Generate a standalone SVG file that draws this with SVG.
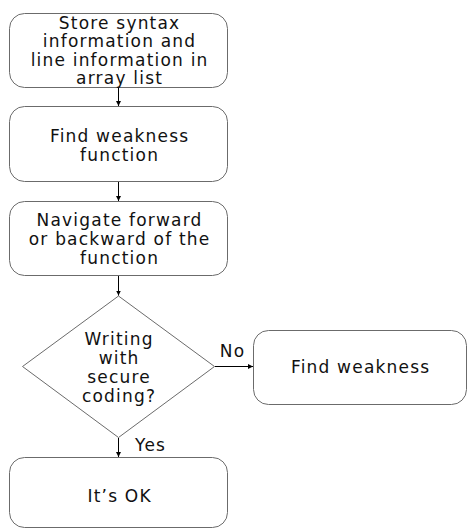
<svg xmlns="http://www.w3.org/2000/svg" width="468" height="529" viewBox="0 0 468 529">
<defs>
<marker id="ah" markerWidth="6" markerHeight="6" refX="5" refY="3" orient="auto" markerUnits="userSpaceOnUse">
<path d="M0,0.5 L5,3 L0,5.5 Z" fill="#000"/>
</marker>
<style>
.box{fill:#fff;stroke:#6b6b6b;stroke-width:1}
.t{font-family:"DejaVu Sans","Noto Sans",sans-serif;font-size:17px;letter-spacing:1.2px;fill:#111;text-anchor:middle}
.c{stroke:#000;stroke-width:1;fill:none;marker-end:url(#ah)}
</style>
</defs>
<rect width="468" height="529" fill="#fff"/>
<g id="n1">
<rect class="box" x="9.5" y="13.5" width="218" height="74" rx="15"/>
<text class="t"><tspan x="119.6" y="28.5">Store syntax</tspan><tspan x="119.6" y="47">information and</tspan><tspan x="119.6" y="65.5">line information in</tspan><tspan x="119.6" y="84">array list</tspan></text>
</g>
<g id="n2">
<rect class="box" x="9.5" y="106.5" width="218" height="75" rx="15"/>
<text class="t"><tspan x="119.6" y="141.5">Find weakness</tspan><tspan x="119.6" y="160.5">function</tspan></text>
</g>
<g id="n3">
<rect class="box" x="9.5" y="201.5" width="218" height="74" rx="15"/>
<text class="t"><tspan x="119.6" y="225.5">Navigate forward</tspan><tspan x="119.6" y="244.5">or backward of the</tspan><tspan x="119.6" y="263.5">function</tspan></text>
</g>
<g id="n4">
<polygon class="box" points="118.5,296 214.5,366.5 118.5,437.5 22.5,366.5"/>
<text class="t"><tspan x="119.1" y="345">Writing</tspan><tspan x="119.1" y="363.5">with</tspan><tspan x="119.1" y="382.5">secure</tspan><tspan x="119.1" y="401.5">coding?</tspan></text>
</g>
<g id="n5">
<rect class="box" x="253.5" y="330.5" width="213" height="74" rx="15"/>
<text class="t" x="360.6" y="373">Find weakness</text>
</g>
<g id="n6">
<rect class="box" x="9.5" y="457.5" width="218" height="70" rx="15"/>
<text class="t" x="119.6" y="502">It’s OK</text>
</g>
<g id="connectors">
<line class="c" x1="118.5" y1="88" x2="118.5" y2="106"/>
<line class="c" x1="118.5" y1="182" x2="118.5" y2="201"/>
<line class="c" x1="118.5" y1="276" x2="118.5" y2="295.5"/>
<line class="c" x1="215" y1="366.5" x2="253" y2="366.5"/>
<line class="c" x1="118.5" y1="438" x2="118.5" y2="457"/>
<text class="t" x="232.6" y="357">No</text>
<text class="t" x="150.6" y="451">Yes</text>
</g>
</svg>
